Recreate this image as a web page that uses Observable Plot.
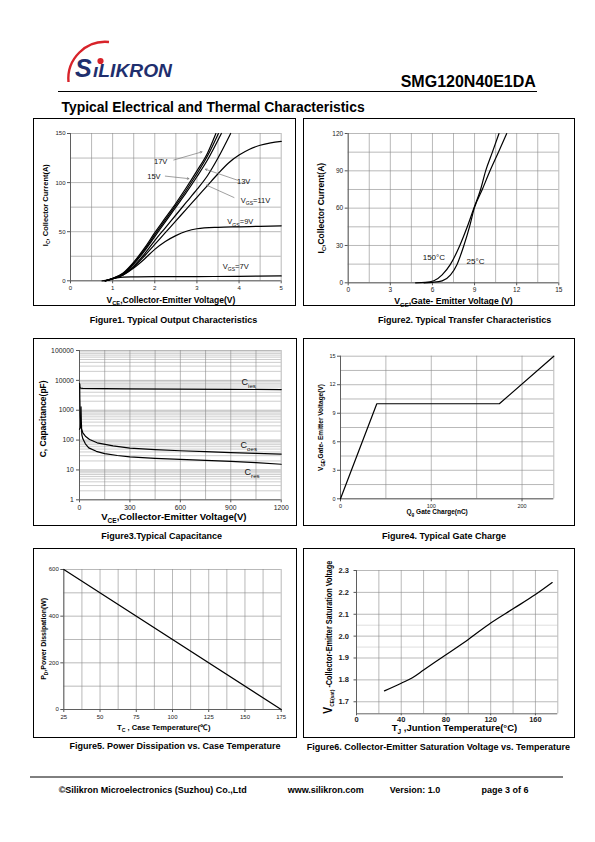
<!DOCTYPE html>
<html><head><meta charset="utf-8">
<script src="https://cdn.jsdelivr.net/npm/d3@7"></script>
<script src="https://cdn.jsdelivr.net/npm/@observablehq/plot@0.6"></script>
<style>
body{margin:0;background:#fff;font-family:"Liberation Sans",Arial,sans-serif;}
#page{position:relative;width:595px;height:842px;overflow:hidden;background:#fff;}
.box{position:absolute;border:1.5px solid #000;box-sizing:border-box;pointer-events:none;}
#page svg{position:absolute;}
</style></head><body><div id="page">
<svg id="deco" width="595" height="842" style="left:0;top:0" font-family="Liberation Sans, Arial, sans-serif">
  <path d="M 68.5 82 A 37 37 0 0 1 109 42" fill="none" stroke="#d8232a" stroke-width="2.4"/>
  <text x="75" y="77" font-style="italic" font-weight="bold" font-size="25" fill="#1f2f6e">S</text>
  <text x="93" y="77" font-style="italic" font-weight="bold" font-size="18" fill="#1f2f6e" textLength="79" lengthAdjust="spacingAndGlyphs">ıLIKRON</text>
  <circle cx="100.5" cy="61" r="3.1" fill="#d8232a"/>
  <text x="400.7" y="87.3" font-weight="bold" font-size="16" fill="#000">SMG120N40E1DA</text>
  <line x1="58" x2="537" y1="91.5" y2="91.5" stroke="#000" stroke-width="1"/>
  <text x="61.5" y="111.5" font-weight="bold" font-size="13.9" fill="#000">Typical Electrical and Thermal Characteristics</text>
  <g font-weight="bold" font-size="9" text-anchor="middle" fill="#000">
    <text x="173.5" y="322.8">Figure1. Typical Output Characteristics</text>
    <text x="464.6" y="323.4">Figure2. Typical Transfer Characteristics</text>
    <text x="161.7" y="539.2">Figure3.Typical  Capacitance</text>
    <text x="444" y="539.2">Figure4. Typical Gate Charge</text>
    <text x="175" y="748.8">Figure5. Power Dissipation vs. Case Temperature</text>
    <text x="438.3" y="749.8">Figure6. Collector-Emitter Saturation Voltage vs. Temperature</text>
  </g>
  <line x1="30" x2="563" y1="777" y2="777" stroke="#000" stroke-width="1"/>
  <g font-weight="bold" font-size="9" fill="#000">
    <text x="58.7" y="793">©Silikron Microelectronics (Suzhou) Co.,Ltd</text>
    <text x="287.7" y="793">www.silikron.com</text>
    <text x="389.7" y="793">Version: 1.0</text>
    <text x="481.5" y="793">page  3  of  6</text>
  </g>
</svg>
</div>
<script>
// ---------------- Figure 1: output characteristics (VCE [V], IC [A])
const outTicksX = [0, 1, 2, 3, 4, 5];
const outTicksY = [0, 50, 100, 150];
const outVge20 = [[0.83,0],[1,2.5],[1.25,8],[1.5,19],[1.75,33],[2,49],[2.25,64],[2.5,79],[2.75,95],[3,112],[3.25,130],[3.45,150]];
const outVge17 = [[0.83,0],[1,2.4],[1.25,7.5],[1.5,18],[1.75,31.5],[2,47],[2.25,62],[2.5,77],[2.75,92.5],[3,109],[3.25,127],[3.51,150]];
const outVge15 = [[0.83,0],[1,2.3],[1.25,7],[1.5,17],[1.75,30],[2,45],[2.25,60],[2.5,75],[2.75,90],[3,106],[3.25,123],[3.58,150]];
const outVge13 = [[0.83,0],[1,2.2],[1.25,6.5],[1.5,15],[1.75,27],[2,41],[2.25,54],[2.5,67],[2.75,80],[3,93],[3.25,107],[3.5,125],[3.8,150]];
const outVge11 = [[0.83,0],[1,2.1],[1.25,6],[1.5,14],[1.75,25],[2,37],[2.25,49],[2.5,61],[2.75,73],[3,85],[3.25,97],[3.5,109],[3.75,120],[4,128],[4.25,134],[4.5,138],[4.75,140.5],[5,142]];
const outVge9 = [[0.8,0],[1,2],[1.25,6],[1.5,13],[1.75,22],[2,32],[2.25,40],[2.5,46],[2.75,50.5],[3,53],[3.5,54.5],[4,55],[4.5,55.5],[5,56]];
const outVge7 = [[0.75,0],[0.9,1],[1,2],[1.1,3],[1.25,3.8],[1.5,4],[2,4.2],[3,4.3],[4,4.6],[5,5]];
const outLabels = [
  {x:2.14, y:121, t:"17V"}, {x:1.98, y:106.6, t:"15V"}, {x:4.11, y:100.8, t:"13V"},
  {x:4.39, y:82, t:"V_{GS}=11V"}, {x:4.03, y:60, t:"V_{GS}=9V"}, {x:3.92, y:14.3, t:"V_{GS}=7V"}
];
const outArrows = [
  {x1:2.45, y1:123, x2:3.12, y2:131.3}, {x1:2.25, y1:106.6, x2:2.81, y2:104},
  {x1:3.96, y1:102.5, x2:3.2, y2:113.6}, {x1:3.88, y1:84.8, x2:3.23, y2:97.4}
];

// ---------------- Figure 2: transfer characteristics (VGE [V], IC [A])
const trTicksX = [0, 3, 6, 9, 12, 15];
const trTicksY = [0, 30, 60, 90, 120];
const tr150 = [[4.8,0],[5.5,0.3],[6.1,1.6],[6.69,6.4],[7.29,15],[7.95,30],[8.48,45],[8.95,60],[9.43,75],[9.79,90],[10.27,105],[10.74,120]];
const tr25 = [[5.4,0],[6,0.4],[6.69,1.6],[7.29,6.4],[7.76,15],[8.24,30],[8.64,45],[8.98,60],[9.55,75],[10.1,90],[10.7,105],[11.29,120]];
const trLabels = [{x:6.1, y:20.3, t:"150°C"}, {x:9.07, y:17, t:"25°C"}];

// ---------------- Figure 3: capacitance (VCE [V], C [pF])
const capTicksX = [0, 300, 600, 900, 1200];
const capTicksY = [1, 10, 100, 1000, 10000, 100000];
const capCies = [[0,8000],[2,5800],[6,5450],[20,5400],[150,5300],[300,5200],[600,5100],[900,5000],[1200,4900]];
const capCoes = [[1,7500],[2,2500],[4,700],[7,330],[12,230],[20,175],[35,135],[60,105],[105,81],[200,64],[300,54],[450,48],[600,44],[750,41],[900,38],[1050,36],[1200,34]];
const capCres = [[0,230],[5,260],[9,1300],[11,400],[14,150],[20,110],[35,75],[55,55],[100,42],[150,35],[225,30.5],[300,27.5],[450,24.5],[600,22.6],[750,21],[900,19.4],[1050,17.5],[1200,15.5]];
const capLabels = [{x:1007, y:8700, t:"C_{ies}"}, {x:1007, y:66, t:"C_{oes}"}, {x:1027, y:8.5, t:"C_{res}"}];

// ---------------- Figure 4: gate charge (Qg [nC], VGE [V])
const gcTicksX = [0, 100, 200];
const gcTicksY = [0, 3, 6, 9, 12, 15];
const gcCharge = [0, 40, 175, 235];
const gcVoltage = [0, 10, 10, 15];

// ---------------- Figure 5: power dissipation (TC [°C], PD [W])
const pdTicksX = [25, 50, 75, 100, 125, 150, 175];
const pdTicksY = [0, 200, 400, 600];
const pdTemp = [25, 175];
const pdPower = [600, 0];

// ---------------- Figure 6: VCE(sat) vs TJ
const vsTicksX = [0, 40, 80, 120, 160];
const vsTicksY = [1.7, 1.8, 1.9, 2.0, 2.1, 2.2, 2.3];
const vsTemp = [25, 40, 50, 60, 80, 100, 120, 140, 160, 175];
const vsVolt = [1.75, 1.785, 1.81, 1.845, 1.915, 1.985, 2.06, 2.125, 2.19, 2.245];

// ---------------------------------------------------------------------------
const page = document.getElementById("page");
const FONT = "Liberation Sans, Arial, sans-serif";
const range = (a, b, s) => d3.range(a, b + s / 2, s);

function markup(svg) {
  svg.querySelectorAll("text, tspan").forEach(el => {
    if (el.childNodes.length !== 1 || el.firstChild.nodeType !== 3) return;
    const s = el.textContent;
    if (!/[_~]\{/.test(s)) return;
    const fs = parseFloat(getComputedStyle(el).fontSize) || 8;
    el.textContent = "";
    const re = /([_~])\{([^}]*)\}/g;
    let last = 0, m, shift = 0;
    const add = (txt, kind) => {
      const t = document.createElementNS("http://www.w3.org/2000/svg", "tspan");
      t.textContent = txt;
      let target = 0;
      if (kind === "_") { t.setAttribute("font-size", (fs * 0.68).toFixed(2)); target = fs * 0.3; }
      if (kind === "~") { t.setAttribute("font-size", (fs * 1.4).toFixed(2)); }
      if (target !== shift) { t.setAttribute("dy", (target - shift).toFixed(2)); shift = target; }
      el.appendChild(t);
    };
    while ((m = re.exec(s))) {
      if (m.index > last) add(s.slice(last, m.index), "");
      add(m[2], m[1]);
      last = re.lastIndex;
    }
    if (last < s.length) add(s.slice(last), "");
  });
}

function frame(o) {
  const gs = o.gridStroke || "#8a8a8a";
  return [
    Plot.ruleY(o.gy2 || [], {stroke: o.minorStroke || "#c8c8c8", strokeWidth: 0.6}),
    Plot.ruleX(o.gx, {stroke: gs, strokeWidth: 0.6}),
    Plot.ruleY(o.gy, {stroke: gs, strokeWidth: 0.6}),
    Plot.ruleX([o.xd[0]], {stroke: "#555", strokeWidth: 0.9}),
    Plot.ruleY([o.yd[0]], {stroke: "#555", strokeWidth: 0.9}),
    Plot.axisX(o.tx, {tickSize: o.tsx ?? 3, tickPadding: o.tpx ?? 2, fontSize: o.tf, fontWeight: o.tw || "normal", label: null, tickFormat: o.fx || (d => String(d)), stroke: "#555"}),
    Plot.axisY(o.ty, {tickSize: o.tsy ?? 3, tickPadding: o.tpy ?? 2, fontSize: o.tf, fontWeight: o.tw || "normal", label: null, tickFormat: o.fy || (d => String(d)), stroke: "#555"}),
    Plot.text([o.xl], {text: d => d, frameAnchor: "bottom", textAnchor: "middle", dx: o.xldx, dy: o.xldy, fontSize: o.xlf, fontWeight: "bold", lineAnchor: "middle", fill: "#000"}),
    Plot.text([o.yl], {text: d => d, frameAnchor: "left", textAnchor: "middle", rotate: -90, dx: o.yldx, dy: o.yldy, fontSize: o.ylf, fontWeight: "bold", lineAnchor: "middle", fill: "#000"})
  ];
}

function figure(o, marks) {
  const svg = Plot.plot({
    width: o.w, height: o.h,
    marginLeft: o.ml, marginRight: o.mr, marginTop: o.mt, marginBottom: o.mb,
    x: {domain: o.xd, type: o.xt || "linear"},
    y: {domain: o.yd, type: o.yt || "linear"},
    style: {fontFamily: FONT, background: "transparent", overflow: "visible", maxWidth: "none", color: "#222"},
    marks: [...frame(o), ...marks]
  });
  svg.style.left = o.left + "px";
  svg.style.top = o.top + "px";
  page.appendChild(svg);
  if (o.ylLen) {
    svg.querySelectorAll("text").forEach(el => {
      if (el.textContent === o.yl) { el.setAttribute("textLength", o.ylLen); el.setAttribute("lengthAdjust", "spacingAndGlyphs"); }
    });
  }
  markup(svg);
  const b = document.createElement("div");
  b.className = "box";
  Object.assign(b.style, {left: o.left + "px", top: o.top + "px", width: o.w + "px", height: o.h + "px"});
  page.appendChild(b);
}

const curve = (data, extra = {}) => Plot.line(data, {x: d => d[0], y: d => d[1], stroke: "#000", strokeWidth: 1.2, ...extra});

// Figure 1
figure({
  left: 33, top: 118, w: 263, h: 188, ml: 37, mr: 15.3, mt: 15, mb: 25.7,
  xd: [0, 5], yd: [0, 150], gx: range(0, 5, 0.5), gy: range(0, 150, 25),
  tx: outTicksX, ty: outTicksY, tf: 6,
  xl: "V_{CE},Collector-Emitter Voltage(V)", xldx: -5, xldy: 19.4, xlf: 8.5,
  yl: "I_{C}, Collector Current(A)", yldx: -25, yldy: -2, ylf: 7.5
}, [
  ...[outVge20, outVge17, outVge15, outVge13, outVge11, outVge9, outVge7].map(d => curve(d, {curve: "monotone-x"})),
  Plot.arrow(outArrows, {x1: "x1", y1: "y1", x2: "x2", y2: "y2", stroke: "#777", strokeWidth: 0.7, headLength: 4}),
  Plot.text(outLabels, {x: "x", y: "y", text: "t", fontSize: 7.5, fill: "#111"})
]);

// Figure 2
figure({
  left: 303, top: 118, w: 272, h: 188, ml: 44.7, mr: 16.7, mt: 15, mb: 23.7,
  xd: [0, 15], yd: [0, 120], gx: range(0, 15, 1.5), gy: range(0, 120, 15),
  tx: trTicksX, ty: trTicksY, tf: 6.5,
  xl: "V_{GE},Gate- Emitter Voltage (V)", xldx: 0, xldy: 18.4, xlf: 8.7,
  yl: "I_{C},Collector Current(A)", yldx: -27, yldy: 0, ylf: 8.5
}, [
  curve(tr150, {curve: "monotone-x"}), curve(tr25, {curve: "monotone-x"}),
  Plot.text(trLabels, {x: "x", y: "y", text: "t", fontSize: 8, fill: "#111"})
]);

// Figure 3
const capMinor = capTicksY.slice(0, -1).flatMap(d => d3.range(2, 10).map(k => k * d));
figure({
  left: 33, top: 338, w: 264, h: 188, ml: 46, mr: 16.3, mt: 12, mb: 26.7,
  xd: [0, 1200], yd: [1, 100000], yt: "log", gx: range(0, 1200, 150), gy: capTicksY, gy2: capMinor, minorStroke: "#ababab",
  tx: capTicksX, ty: capTicksY, tf: 6.8, tpy: 2.7,
  xl: "V_{CE},Collector-Emitter Voltage(V)", xldx: -6.5, xldy: 17.4, xlf: 9.6,
  yl: "C, Capacitance(pF)", yldx: -36.7, yldy: -6.3, ylf: 8.5
}, [
  curve(capCies), curve(capCoes), curve(capCres),
  Plot.text(capLabels, {x: "x", y: "y", text: "t", fontSize: 9, fill: "#111"})
]);

// Figure 4
figure({
  left: 303, top: 338, w: 272, h: 188, ml: 37, mr: 21.7, mt: 17.7, mb: 27.7,
  xd: [0, 235], yd: [0, 15], gx: [...range(0, 200, 50), 235], gy: range(0, 15, 1.5),
  tx: gcTicksX, ty: gcTicksY, tf: 5.5,
  xl: "Q_{g} Gate Charge(nC)", xldx: -10, xldy: 13.4, xlf: 6.5,
  yl: "V_{GE},Gate- Emitter Voltage(V)", yldx: -19.3, yldy: 0, ylf: 6.5
}, [
  Plot.line(gcCharge, {x: d => d, y: (d, i) => gcVoltage[i], stroke: "#000", strokeWidth: 1.2})
]);

// Figure 5
figure({
  left: 33, top: 548, w: 264, h: 190, ml: 30.3, mr: 16.3, mt: 21, mb: 29,
  xd: [25, 175], yd: [0, 600], gx: range(25, 175, 12.5), gy: range(0, 600, 100),
  tx: pdTicksX, ty: pdTicksY, tf: 6,
  xl: "T_{C} , Case Temperature(℃)", xldx: -8.7, xldy: 17.7, xlf: 7.6,
  yl: "P_{D},Power Dissipation(W)", yldx: -20, yldy: -0.7, ylf: 7
}, [
  Plot.line(pdTemp, {x: d => d, y: (d, i) => pdPower[i], stroke: "#000", strokeWidth: 1.2})
]);

// Figure 6
figure({
  left: 303, top: 548, w: 272, h: 190, ml: 53, mr: 17.7, mt: 22, mb: 24.7,
  xd: [0, 180], yd: [1.645, 2.3], gx: range(0, 180, 20), gy: vsTicksY, gy2: [1.95, 2.05],
  tx: vsTicksX, ty: vsTicksY, tf: 7.5, tw: "bold", tsx: 2, tpx: 0.5, tpy: 5, tsy: 2.5,
  fy: d => d.toFixed(1),
  xl: "T_{J} ,Juntion Temperature(°C)", xldx: -2.7, xldy: 14.4, xlf: 9.5,
  yl: "~{V}_{CE(sat)} -Collector-Emitter Saturation Voltage", ylLen: 153, yldx: -27.7, yldy: -5, ylf: 8.5
}, [
  Plot.line(vsTemp, {x: d => d, y: (d, i) => vsVolt[i], stroke: "#000", strokeWidth: 1.2, curve: "monotone-x"})
]);
</script>
</body></html>
